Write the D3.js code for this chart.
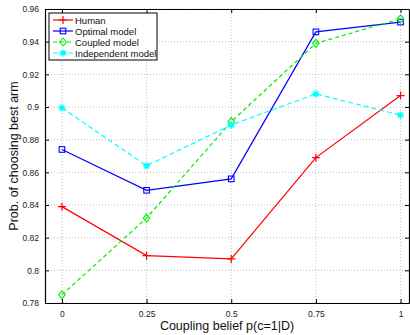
<!DOCTYPE html>
<html>
<head>
<meta charset="utf-8">
<script src="https://cdn.jsdelivr.net/npm/d3@7"></script>
<style>
body { margin: 0; background: #fff; }
text { font-family: "Liberation Sans", Arial, sans-serif; }
</style>
</head>
<body>
<div id="chart"></div>
<script>
var xValues = [0, 0.25, 0.5, 0.75, 1];
var xTickLabels = ["0", "0.25", "0.5", "0.75", "1"];
var yTicks = [0.78, 0.8, 0.82, 0.84, 0.86, 0.88, 0.9, 0.92, 0.94, 0.96];
var seriesNames = ["Human", "Optimal model", "Coupled model", "Independent model"];
var human = [0.839, 0.809, 0.807, 0.869, 0.907];
var optimal = [0.874, 0.849, 0.856, 0.946, 0.952];
var coupled = [0.785, 0.832, 0.891, 0.939, 0.954];
var independent = [0.8995, 0.864, 0.889, 0.908, 0.895];

var W = 410, H = 335;
var margin = { top: 9, left: 45, bottom: 32, right: 1 };

var svg = d3.select("#chart").append("svg")
    .attr("width", W)
    .attr("height", H);

var x = d3.scaleLinear().domain([-0.05, 1.025]).range([margin.left, W - margin.right]);
var y = d3.scaleLinear().domain([0.78, 0.96]).range([H - margin.bottom, margin.top]);

// grid
svg.append("g").selectAll("line.gx")
    .data(xValues).enter().append("line")
    .attr("x1", function(d) { return x(d); })
    .attr("x2", function(d) { return x(d); })
    .attr("y1", y(0.78)).attr("y2", y(0.96))
    .attr("stroke", "#b0b0b0").attr("stroke-width", 0.8)
    .attr("stroke-dasharray", "1,2");
svg.append("g").selectAll("line.gy")
    .data(yTicks).enter().append("line")
    .attr("y1", function(d) { return y(d); })
    .attr("y2", function(d) { return y(d); })
    .attr("x1", x.range()[0]).attr("x2", x.range()[1])
    .attr("stroke", "#b0b0b0").attr("stroke-width", 0.8)
    .attr("stroke-dasharray", "1,2");

// axes
var xAxis = d3.axisBottom(x).tickValues(xValues)
    .tickFormat(function(d, i) { return xTickLabels[i]; })
    .tickSizeInner(-4).tickSizeOuter(0).tickPadding(8);
var yAxis = d3.axisLeft(y).tickValues(yTicks)
    .tickFormat(function(d) { return d3.format("")(+d.toFixed(2)); })
    .tickSizeInner(-4).tickSizeOuter(0).tickPadding(6);

var gx = svg.append("g").attr("transform", "translate(0," + y(0.78) + ")").call(xAxis);
var gy = svg.append("g").attr("transform", "translate(" + x.range()[0] + ",0)").call(yAxis);
var gxTop = svg.append("g").attr("transform", "translate(0," + y(0.96) + ")")
    .call(d3.axisTop(x).tickValues(xValues).tickFormat("").tickSizeInner(-4).tickSizeOuter(0));
var gyRight = svg.append("g").attr("transform", "translate(" + x.range()[1] + ",0)")
    .call(d3.axisRight(y).tickValues(yTicks).tickFormat("").tickSizeInner(-4).tickSizeOuter(0));
[gx, gy, gxTop, gyRight].forEach(function(g) {
    g.select(".domain").attr("stroke", "#000").attr("stroke-width", 1.2);
    g.selectAll(".tick line").attr("stroke", "#000");
    g.selectAll("text").attr("font-size", 8.5).attr("fill", "#222")
        .style("font-family", "Liberation Sans, Arial, sans-serif");
});

// series
var series = [
    { name: seriesNames[0], values: human, color: "#ff0000", dash: null, marker: "plus" },
    { name: seriesNames[1], values: optimal, color: "#0000ff", dash: null, marker: "square" },
    { name: seriesNames[2], values: coupled, color: "#00ee00", dash: "4,3", marker: "diamond" },
    { name: seriesNames[3], values: independent, color: "#00ffff", dash: "5,3", marker: "star" }
];

var line = d3.line()
    .x(function(d, i) { return x(xValues[i]); })
    .y(function(d) { return y(d); });

function drawMarker(g, type, cx, cy, color) {
    var m = g.append("g").attr("transform", "translate(" + cx + "," + cy + ")");
    if (type === "plus") {
        m.append("path").attr("d", "M-4,0H4M0,-4V4").attr("stroke", color).attr("stroke-width", 1.2);
    } else if (type === "square") {
        m.append("rect").attr("x", -2.8).attr("y", -2.8).attr("width", 5.6).attr("height", 5.6)
            .attr("fill", "none").attr("stroke", color).attr("stroke-width", 1.1);
    } else if (type === "diamond") {
        m.append("path").attr("d", "M0,-4L3.3,0L0,4L-3.3,0Z")
            .attr("fill", "none").attr("stroke", color).attr("stroke-width", 1.1);
    } else {
        m.append("path").attr("d", "M-3.5,0H3.5M0,-3.5V3.5M-2.6,-2.6L2.6,2.6M-2.6,2.6L2.6,-2.6")
            .attr("stroke", color).attr("stroke-width", 1.4);
    }
}

series.forEach(function(s) {
    svg.append("path").datum(s.values)
        .attr("d", line)
        .attr("fill", "none")
        .attr("stroke", s.color)
        .attr("stroke-width", 1.2)
        .attr("stroke-dasharray", s.dash);
    s.values.forEach(function(v, i) {
        drawMarker(svg, s.marker, x(xValues[i]), y(v), s.color);
    });
});

// legend
var lg = svg.append("g").attr("transform", "translate(49,13)");
lg.append("rect").attr("width", 108).attr("height", 47)
    .attr("fill", "#fff").attr("stroke", "#000").attr("stroke-width", 1);
series.forEach(function(s, i) {
    var yy = 7 + i * 11;
    lg.append("line").attr("x1", 4).attr("x2", 24).attr("y1", yy).attr("y2", yy)
        .attr("stroke", s.color).attr("stroke-width", 1.2)
        .attr("stroke-dasharray", s.dash);
    drawMarker(lg, s.marker, 14, yy, s.color);
    lg.append("text").attr("x", 26).attr("y", yy + 3.5)
        .attr("font-size", 9.5).attr("fill", "#111").text(s.name);
});

// axis labels
svg.append("text")
    .attr("x", (x.range()[0] + x.range()[1]) / 2)
    .attr("y", 330)
    .attr("text-anchor", "middle")
    .attr("font-size", 12.5).attr("fill", "#111")
    .text("Coupling belief p(c=1|D)");
svg.append("text")
    .attr("transform", "translate(18," + ((y.range()[0] + y.range()[1]) / 2) + ") rotate(-90)")
    .attr("text-anchor", "middle")
    .attr("font-size", 12.5).attr("fill", "#111")
    .text("Prob. of choosing best arm");
</script>
</body>
</html>
